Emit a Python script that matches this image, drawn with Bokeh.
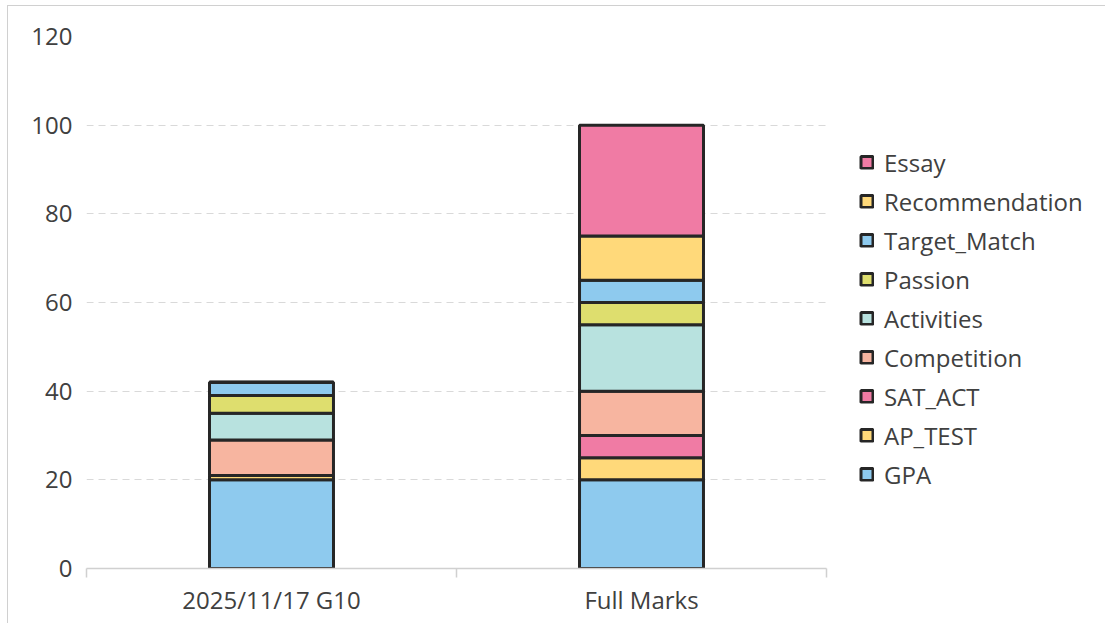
from bokeh.plotting import figure
from bokeh.models import ColumnDataSource, Legend, LegendItem, FixedTicker, Range1d
from bokeh.embed import file_html
from bokeh.resources import INLINE

categories = ["2025/11/17 G10", "Full Marks"]
series = ["GPA", "AP_TEST", "SAT_ACT", "Competition", "Activities",
          "Passion", "Target_Match", "Recommendation", "Essay"]
GPA = [20, 20]
AP_TEST = [1, 5]
SAT_ACT = [0, 5]
Competition = [8, 10]
Activities = [6, 15]
Passion = [4, 5]
Target_Match = [3, 5]
Recommendation = [0, 10]
Essay = [0, 25]
y_ticks = [0, 20, 40, 60, 80, 100, 120]

colors = ["#8ECAEE", "#FFD97A", "#F07BA4", "#F7B5A0", "#B8E2DF",
          "#DEDE6E", "#8ECAEE", "#FFD97A", "#F07BA4"]

FONT = "Open Sans"
TXT = "#404040"

xpos = [i + 0.5 for i in range(len(categories))]
source = ColumnDataSource(dict(
    x=xpos, GPA=GPA, AP_TEST=AP_TEST, SAT_ACT=SAT_ACT, Competition=Competition,
    Activities=Activities, Passion=Passion, Target_Match=Target_Match,
    Recommendation=Recommendation, Essay=Essay))

p = figure(frame_width=740, frame_height=532, output_backend="svg", toolbar_location=None,
           x_range=Range1d(0, len(categories)), y_range=Range1d(0, 120),
           min_border_left=78, min_border_right=10, min_border_top=30,
           min_border_bottom=55)
p.margin = (5, 0, 0, 7)
p.styles = {"border-left": "1.5px solid #d0d0d0", "border-top": "1.5px solid #d0d0d0"}
p.outline_line_color = None

renderers = p.vbar_stack(series, x="x", width=0.335, source=source,
                         fill_color=colors, line_color="#262626", line_width=3)

# axes
p.yaxis.ticker = FixedTicker(ticks=y_ticks)
p.yaxis.axis_line_color = None
p.yaxis.major_tick_line_color = None
p.yaxis.minor_tick_line_color = None
p.yaxis.major_tick_out = 0
p.yaxis.major_label_standoff = 14
p.yaxis.major_label_text_font = FONT
p.yaxis.major_label_text_font_size = "24px"
p.yaxis.major_label_text_color = TXT

p.xaxis.ticker = FixedTicker(ticks=xpos, minor_ticks=list(range(len(categories) + 1)))
p.xaxis.major_label_overrides = {x: c for x, c in zip(xpos, categories)}
p.xaxis.major_tick_line_color = None
p.xaxis.major_tick_out = 0
p.xaxis.minor_tick_out = 9
p.xaxis.minor_tick_in = 0
p.xaxis.minor_tick_line_color = "#d0d0d0"
p.xaxis.minor_tick_line_width = 1.5
p.xaxis.axis_line_color = "#d0d0d0"
p.xaxis.axis_line_width = 1.5
p.xaxis.major_label_standoff = 5
p.xaxis.major_label_text_font = FONT
p.xaxis.major_label_text_font_size = "24px"
p.xaxis.major_label_text_color = TXT

p.xgrid.grid_line_color = None
p.ygrid.ticker = FixedTicker(ticks=y_ticks[1:])
p.ygrid.grid_line_color = "#d9d9d9"
p.ygrid.grid_line_dash = "7 5"
p.ygrid.grid_line_width = 1.2

items = [LegendItem(label=s, renderers=[r]) for s, r in zip(series, renderers)][::-1]
legend = Legend(items=items, location="center_left", padding=0, margin=33,
                spacing=6, glyph_width=15, glyph_height=15, label_height=24,
                label_standoff=10, label_text_font=FONT, label_text_font_size="24px",
                label_text_color=TXT, border_line_color=None,
                background_fill_alpha=0,
                title=" ", title_text_font_size="10px", title_standoff=21)
p.add_layout(legend, "right")

open("out.html", "w").write(file_html(p, INLINE))
